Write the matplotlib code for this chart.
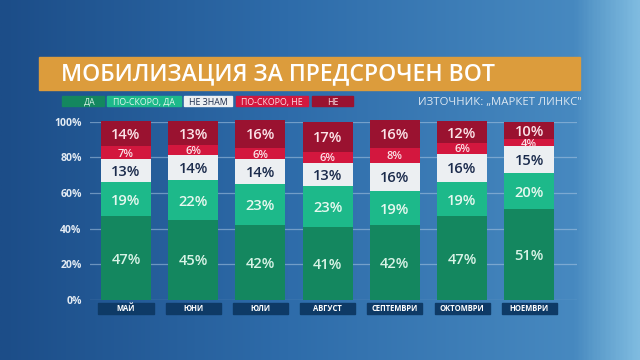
import matplotlib
matplotlib.use("Agg")
from matplotlib import pyplot
from matplotlib.colors import LinearSegmentedColormap
from matplotlib.patches import Rectangle
import numpy

pyplot.rcParams["font.family"] = ["Open Sans", "DejaVu Sans"]

months = ["МАЙ", "ЮНИ", "ЮЛИ", "АВГУСТ", "СЕПТЕМВРИ", "ОКТОМВРИ", "НОЕМВРИ"]
da = [47, 45, 42, 41, 42, 47, 51]
po_skoro_da = [19, 22, 23, 23, 19, 19, 20]
ne_znam = [13, 14, 14, 13, 16, 16, 15]
po_skoro_ne = [7, 6, 6, 6, 8, 6, 4]
ne = [14, 13, 16, 17, 16, 12, 10]
series_names = ["ДА", "ПО-СКОРО, ДА", "НЕ ЗНАМ", "ПО-СКОРО, НЕ", "НЕ"]
yticks = [0, 20, 40, 60, 80, 100]

colors = ["#14875f", "#1db98a", "#eceff2", "#d3173e", "#9a1230"]
text_colors = ["#d8f3e6", "#e6f8ef", "#1b2b4c", "#fbe3e8", "#fbe3e8"]

fig = pyplot.figure(figsize=(6.4, 3.6), dpi=100)

# background gradient
bg = fig.add_axes([0, 0, 1, 1], zorder=-10)
cmap = LinearSegmentedColormap.from_list(
    "bg", [(0, "#1c4d88"), (0.45, "#2e6caa"), (0.9, "#4789c0"), (0.94, "#5f9fcd"), (1, "#7fbbe0")])
grad = numpy.tile(numpy.linspace(0, 1, 400), (100, 1))
bg.imshow(grad, cmap=cmap, aspect="auto", extent=[0, 1, 0, 1])
bg.set_xlim(0, 1)
bg.set_ylim(0, 1)
bg.axis("off")

# title banner
fig.patches.append(Rectangle((39 / 640, 1 - 90 / 360), 541 / 640, 33 / 360,
                             transform=fig.transFigure, color="#dc9c3c", zorder=1))
fig.text(61 / 640, 1 - 74 / 360, "МОБИЛИЗАЦИЯ ЗА ПРЕДСРОЧЕН ВОТ", color="white",
         fontsize=16.6, fontweight="semibold", va="center", ha="left", zorder=2)

# legend boxes
leg_boxes = [(62, 104), (107, 181), (184, 232), (236, 308), (312, 353)]
for (x0, x1), name, c, tc in zip(leg_boxes, series_names, colors, text_colors):
    fig.patches.append(Rectangle((x0 / 640, 1 - 106 / 360), (x1 - x0) / 640, 10 / 360,
                                 transform=fig.transFigure, color=c, zorder=1))
    fig.text((x0 + x1) / 2 / 640 + (0.01 if name == "ДА" else 0), 1 - 101.5 / 360, name,
             color=tc, fontsize=6.3, ha="center", va="center_baseline", zorder=2)
fig.text(582 / 640, 1 - 102 / 360, "ИЗТОЧНИК: „МАРКЕТ ЛИНКС\"", color="#dce7f2",
         fontsize=8.2, ha="right", va="center")

# chart
ax = fig.add_axes([90 / 640, 60 / 360, 487 / 640, 178.5 / 360])
ax.set_facecolor("none")
x = numpy.arange(len(months))
bottom = numpy.zeros(len(months))
for vals, c, tc in zip([da, po_skoro_da, ne_znam, po_skoro_ne, ne], colors, text_colors):
    vals = numpy.array(vals)
    ax.bar(x, vals, bottom=bottom, width=0.744, color=c, zorder=3, clip_on=False)
    for xi, b, v in zip(x, bottom, vals):
        ax.text(xi, b + v / 2, f"{v}%", ha="center", va="center_baseline", color=tc,
                fontsize=10.5 if v > 8 else 8, fontweight="semibold", zorder=4)
    bottom += vals

ax.set_xlim(-0.536, 6.71)
ax.set_ylim(0, 100)
ax.set_yticks(yticks)
ax.set_yticklabels([f"{t}%" for t in yticks], color="#e3ebf3", fontsize=7.5, fontweight="bold")
ax.tick_params(axis="y", length=0, pad=6)
ax.set_xticks([])
ax.grid(axis="y", color="#a9c6e2", alpha=0.55, lw=0.9, zorder=0)
for s in ax.spines.values():
    s.set_visible(False)

# month boxes under the bars
for xi, m in zip(x, months):
    ax.add_patch(Rectangle((xi - 0.41, -7.8), 0.82, 6.2, color="#0e3a66",
                           clip_on=False, zorder=2))
    ax.text(xi, -4.7, m, ha="center", va="center", color="white", fontsize=5.5,
            fontweight="bold", clip_on=False, zorder=3)

pyplot.savefig("out.png", dpi=100)
pyplot.close()
